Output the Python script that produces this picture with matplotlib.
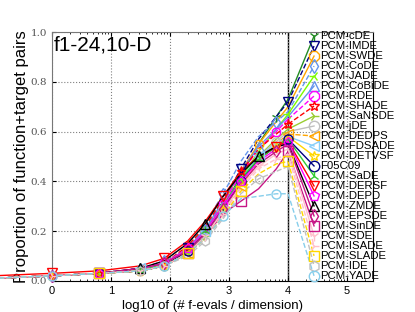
import numpy as np
import matplotlib
matplotlib.use('Agg')
import matplotlib.pyplot as plt

# log10(#f-evals / dim) grid where curves were sampled
x_evals = [-1.0, 0.0, 0.8, 1.5, 1.9, 2.3, 2.6, 2.9, 3.2, 3.5, 3.8, 4.0]

names = ['PCM-cDE', 'PCM-IMDE', 'PCM-SWDE', 'PCM-CoDE', 'PCM-JADE', 'PCM-CoBiDE',
         'PCM-RDE', 'PCM-SHADE', 'PCM-SaNSDE', 'PCM-jDE', 'PCM-DEDPS', 'PCM-FDSADE',
         'PCM-DETVSF', 'F05C09', 'PCM-SaDE', 'PCM-DERSF', 'PCM-DEPD', 'PCM-ZMDE',
         'PCM-EPSDE', 'PCM-SinDE', 'PCM-SDE', 'PCM-ISADE', 'PCM-SLADE', 'PCM-IDE',
         'PCM-YADE']

# proportion of function+target pairs, one row per algorithm (same order as names)
ecdf = [
    [0.01, 0.02, 0.03, 0.04, 0.06, 0.12, 0.19, 0.30, 0.42, 0.55, 0.66, 0.73],
    [0.01, 0.02, 0.03, 0.05, 0.07, 0.13, 0.21, 0.32, 0.45, 0.57, 0.66, 0.72],
    [0.01, 0.02, 0.03, 0.04, 0.07, 0.12, 0.20, 0.31, 0.44, 0.55, 0.64, 0.70],
    [0.01, 0.02, 0.03, 0.05, 0.08, 0.15, 0.23, 0.35, 0.48, 0.58, 0.64, 0.68],
    [0.01, 0.02, 0.03, 0.04, 0.06, 0.11, 0.18, 0.29, 0.41, 0.52, 0.61, 0.67],
    [0.01, 0.02, 0.03, 0.05, 0.07, 0.13, 0.21, 0.32, 0.44, 0.54, 0.61, 0.66],
    [0.01, 0.02, 0.03, 0.05, 0.07, 0.13, 0.20, 0.31, 0.43, 0.53, 0.60, 0.65],
    [0.01, 0.02, 0.03, 0.05, 0.07, 0.14, 0.22, 0.33, 0.44, 0.53, 0.59, 0.63],
    [0.01, 0.02, 0.03, 0.04, 0.06, 0.11, 0.18, 0.28, 0.40, 0.50, 0.57, 0.61],
    [0.01, 0.02, 0.03, 0.04, 0.06, 0.12, 0.19, 0.29, 0.40, 0.50, 0.56, 0.60],
    [0.01, 0.02, 0.03, 0.04, 0.06, 0.11, 0.17, 0.27, 0.38, 0.48, 0.55, 0.59],
    [0.01, 0.02, 0.03, 0.05, 0.07, 0.13, 0.20, 0.30, 0.41, 0.50, 0.55, 0.58],
    [0.01, 0.02, 0.03, 0.04, 0.06, 0.12, 0.19, 0.29, 0.40, 0.49, 0.54, 0.58],
    [0.01, 0.02, 0.03, 0.04, 0.06, 0.12, 0.19, 0.29, 0.40, 0.49, 0.54, 0.57],
    [0.01, 0.02, 0.03, 0.04, 0.07, 0.13, 0.20, 0.30, 0.41, 0.49, 0.54, 0.57],
    [0.02, 0.03, 0.04, 0.06, 0.09, 0.16, 0.24, 0.34, 0.44, 0.50, 0.54, 0.56],
    [0.01, 0.02, 0.03, 0.05, 0.07, 0.13, 0.20, 0.30, 0.40, 0.48, 0.53, 0.56],
    [0.01, 0.02, 0.03, 0.05, 0.08, 0.15, 0.23, 0.34, 0.43, 0.50, 0.54, 0.55],
    [0.01, 0.02, 0.03, 0.05, 0.07, 0.12, 0.19, 0.29, 0.39, 0.47, 0.52, 0.55],
    [0.01, 0.02, 0.03, 0.04, 0.06, 0.11, 0.18, 0.27, 0.32, 0.37, 0.45, 0.52],
    [0.01, 0.02, 0.03, 0.04, 0.06, 0.11, 0.18, 0.28, 0.38, 0.46, 0.51, 0.53],
    [0.01, 0.02, 0.03, 0.04, 0.06, 0.11, 0.17, 0.27, 0.37, 0.45, 0.49, 0.51],
    [0.01, 0.02, 0.03, 0.04, 0.06, 0.11, 0.17, 0.26, 0.36, 0.43, 0.47, 0.48],
    [0.01, 0.02, 0.03, 0.04, 0.06, 0.10, 0.16, 0.25, 0.35, 0.41, 0.44, 0.46],
    [0.01, 0.02, 0.03, 0.04, 0.06, 0.11, 0.17, 0.26, 0.33, 0.34, 0.35, 0.35],
]

colors = ['#228b22', 'navy', 'orange', 'cornflowerblue', 'lawngreen', 'cornflowerblue',
          'magenta', 'red', 'yellowgreen', 'silver', 'orange', 'lightskyblue',
          'gold', 'navy', 'limegreen', 'red', 'magenta', 'black',
          'mediumvioletred', 'mediumvioletred', 'pink', 'pink', 'gold', 'silver',
          'skyblue']
markers = ['1', 'v', '8', 'd', '3', '^', '8', '*', '4', 'o', '<', '<',
           '*', 'o', '2', 'v', 'p', '^', 'd', 's', '1', '4', 's', 'h', 'o']
styles = ['-', '--', '-', '--', '-', '-', '--', '--', '-', '-', '--', '-',
          '-', '-', '-', '-', '-', '-', '-', '-', '-', '--', '--', '--', '--']

max_evals = 4.0
leg_x = 4.44
leg_y = np.linspace(0.984, 0.02, len(names))

plt.rcParams['font.family'] = ['Liberation Sans', 'DejaVu Sans']

fig = plt.figure(figsize=(4.15, 3.12), dpi=100)
ax = fig.add_axes([0.125, 0.1, 0.774, 0.797])

for i, name in enumerate(names):
    ys = ecdf[i]
    c = colors[i]
    ax.plot(x_evals, ys, color=c, ls=styles[i], lw=1, clip_on=False, zorder=2)
    # markers at a few staggered positions along the curve
    idx = [(1 + i) % 3 + k for k in range(0, len(x_evals) - 1, 3)]
    idx = [j for j in idx if j < len(x_evals)]
    ax.plot([x_evals[j] for j in idx], [ys[j] for j in idx], ls='none',
            marker=markers[i], ms=6.5, mfc='none', mec=c, mew=1, clip_on=False, zorder=3)
    # connector to the label
    ax.plot([x_evals[-1], leg_x], [ys[-1], leg_y[i]], color=c, ls=styles[i], lw=1,
            clip_on=False, zorder=2)
    ax.plot([leg_x], [leg_y[i]], ls='none', marker=markers[i], ms=7.5, mfc='none',
            mec=c, mew=1, clip_on=False, zorder=4)
    ax.text(leg_x + 0.1, leg_y[i], name, fontsize=8.2, ha='left', va='center', zorder=5)

ax.axvline(max_evals, color='black', lw=1, zorder=1)

ax.set_xlim(0, 5.44)
ax.set_ylim(0, 1)
ax.set_xticks([0, 1, 2, 3, 4, 5])
minor = [n + np.log10(k) for n in range(0, 6) for k in range(2, 10) if n + np.log10(k) < 5.44]
ax.set_xticks(minor, minor=True)
ax.set_yticks([0, 0.2, 0.4, 0.6, 0.8, 1.0])
ax.set_yticklabels(['0.0', '0.2', '0.4', '0.6', '0.8', '1.0'], family='DejaVu Serif',
                   color='#555555', fontsize=7.5)
ax.tick_params(axis='x', labelsize=8, direction='in', top=True, length=3)
ax.tick_params(axis='x', which='minor', direction='in', top=True, length=1.5)
ax.tick_params(axis='y', direction='in', length=3)
ax.grid(True, which='major', ls=':', color='gray', lw=0.8)
for side in ['left', 'top']:
    ax.spines[side].set_color('#777777')

ax.set_xlabel('log10 of (# f-evals / dimension)', fontsize=9.5, labelpad=3)
ax.set_ylabel('Proportion of function+target pairs', fontsize=12, labelpad=1)
ax.text(0.005, 0.985, 'f1-24,10-D', transform=ax.transAxes, fontsize=15,
        ha='left', va='top')

fig.savefig('out.png', dpi=100)
